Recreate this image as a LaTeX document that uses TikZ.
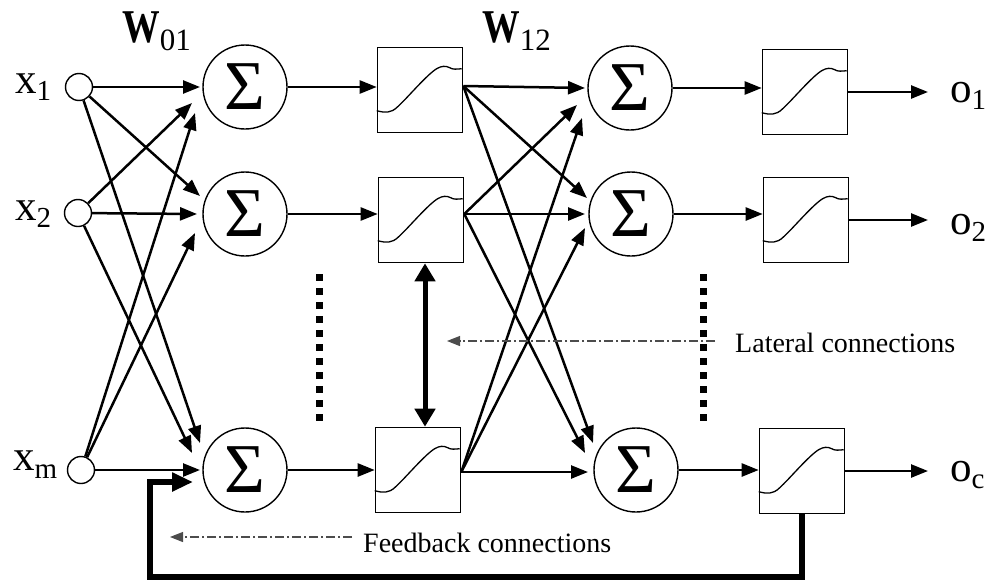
\documentclass[tikz,border=0pt]{standalone}
\usepackage{fontspec}
\setmainfont{Liberation Serif}
\usetikzlibrary{arrows.meta,calc}

% label with a lowered subscript
\newcommand\sublabel[3][7pt]{#2\raisebox{-#1}{\fontsize{29}{29}\selectfont #3}}
% weight label: bold W with a lowered index
\newcommand\weightlabel[1]{{\fontsize{47}{47}\selectfont\bfseries\scalebox{0.8}[1]{W}}\raisebox{-8pt}{\fontsize{31}{31}\selectfont #1}}
% sigmoid trace inside an activation box
\newcommand\actcurve[1]{%
  \begin{scope}[shift={(#1.north west)}]
    \draw[line width=1.3pt] (0,64) .. controls (8,66) and (14,67) .. (21,60)
      .. controls (30,52) and (50,28) .. (60,22)
      .. controls (65,19) and (69,19) .. (73,21)
      .. controls (76,23) and (80,22.5) .. (85,22);
  \end{scope}}

\begin{document}
\begin{tikzpicture}[x=1pt,y=-1pt,
  inp/.style={circle,draw,line width=1.4pt,minimum size=27pt,inner sep=0pt},
  sumnode/.style={circle,draw,line width=1.4pt,minimum size=84pt,inner sep=0pt,
    font=\fontsize{70}{70}\selectfont},
  actbox/.style={rectangle,draw,line width=1.6pt,minimum size=85pt,inner sep=0pt},
  wire/.style={line width=2.5pt,-{Triangle[length=17pt,width=13pt]}},
  lateral/.style={line width=5pt,{Triangle[length=18pt,width=20pt]}-{Triangle[length=18pt,width=20pt]}},
  feedback/.style={line width=6pt,line join=miter,-{Triangle[length=21pt,width=18pt]}},
  dots/.style={line width=7pt,dash pattern=on 7pt off 7pt},
  pointer/.style={line width=1.1pt,black!70,dash pattern=on 9pt off 3pt on 2pt off 3pt,
    -{Triangle[length=13pt,width=10pt]}},
  iolabel/.style={anchor=base west,inner sep=0pt,font=\fontsize{43}{43}\selectfont},
  note/.style={inner sep=0pt,font=\fontsize{28}{28}\selectfont},
]
\useasboundingbox (0,0) rectangle (992,581);

% input units
\node[inp] (in1) at (79,87) {};
\node[inp] (in2) at (78,213) {};
\node[inp] (inm) at (81,470) {};
\node[iolabel] at (15,93) {\sublabel{x}{1}};
\node[iolabel] at (15,220) {\sublabel{x}{2}};
\node[iolabel] at (13,470) {\sublabel[8pt]{x}{m}};

% first summation layer
\node[sumnode] (s1) at (245,87) {Σ};
\node[sumnode] (s2) at (245,214) {Σ};
\node[sumnode] (s3) at (245,470) {Σ};

% first activation layer
\node[actbox] (b1) at (420,90) {};
\node[actbox] (b2) at (421,220) {};
\node[actbox] (b3) at (418,470) {};
\actcurve{b1}\actcurve{b2}\actcurve{b3}

% second summation layer
\node[sumnode] (t1) at (630,88) {Σ};
\node[sumnode] (t2) at (631,214) {Σ};
\node[sumnode] (t3) at (636,470) {Σ};

% second activation layer
\node[actbox] (c1) at (805,92) {};
\node[actbox] (c2) at (806,220) {};
\node[actbox] (c3) at (802,471) {};
\actcurve{c1}\actcurve{c2}\actcurve{c3}

% weight labels
\node[anchor=base west,inner sep=0pt] at (122,42) {\weightlabel{01}};
\node[anchor=base west,inner sep=0pt] at (482,42) {\weightlabel{12}};

% inputs to first summation layer
\draw[wire] (in1) -- ([shift={(-45,0)}]s1.center);
\draw[wire] (in1) -- ([shift={(-45,-18)}]s2.center);
\draw[wire] (in1) -- ([shift={(-45,-27)}]s3.center);
\draw[wire] (in2) -- ([shift={(-53,16)}]s1.center);
\draw[wire] (in2) -- ([shift={(-48,0)}]s2.center);
\draw[wire] (in2) -- ([shift={(-53,-17)}]s3.center);
\draw[wire] (inm) -- ([shift={(-50,26)}]s1.center);
\draw[wire] (inm) -- ([shift={(-50,19)}]s2.center);
\draw[wire] (inm) -- ([shift={(-45,0)}]s3.center);

% summation to activation
\foreach \s/\b in {s1/b1,s2/b2,s3/b3,t1/c1,t2/c2,t3/c3}
  \draw[wire] (\s.east) -- (\s.east -| \b.west);

% first activation layer to second summation layer
\coordinate (p1) at ([shift={(0,-4)}]b1.east);
\coordinate (p2) at ([shift={(0,-6)}]b2.east);
\coordinate (p3) at ([shift={(0,2)}]b3.east);
\draw[wire] (p1) -- ([shift={(-45,0)}]t1.center);
\draw[wire] (p1) -- ([shift={(-44,-16)}]t2.center);
\draw[wire] (p1) -- ([shift={(-43,-27)}]t3.center);
\draw[wire] (p2) -- ([shift={(-53,17)}]t1.center);
\draw[wire] (p2) -- ([shift={(-46,0)}]t2.center);
\draw[wire] (p2) -- ([shift={(-51,-17)}]t3.center);
\draw[wire] (p3) -- ([shift={(-48,30)}]t1.center);
\draw[wire] (p3) -- ([shift={(-46,14)}]t2.center);
\draw[wire] (p3) -- ([shift={(-48,2)}]t3.center);

% outputs
\coordinate (e1) at (928,91);
\coordinate (e2) at (928,220);
\coordinate (ec) at (928,472);
\draw[wire] (c1.east) -- (c1.east -| e1);
\draw[wire] (c2.east) -- (c2.east -| e2);
\draw[wire] (c3.east) -- (c3.east -| ec);
\node[iolabel] at (950,102) {\sublabel{o}{1}};
\node[iolabel] at (950,234) {\sublabel{o}{2}};
\node[iolabel] at (950,481) {\sublabel{o}{c}};

% omitted units
\coordinate (d1a) at (319,274);
\coordinate (d1b) at (319,428);
\coordinate (d2a) at (703,274);
\coordinate (d2b) at (703,428);
\draw[dots] (d1a) -- (d1b);
\draw[dots] (d2a) -- (d2b);

% lateral connection
\draw[lateral] ([xshift=4pt]b2.south) -- ([xshift=4pt]b2.south |- b3.north);

% feedback connection
\coordinate (fbc) at (150,577);
\coordinate (fbt) at (193,482);
\draw[feedback] (c3.south) |- (fbc) |- (fbt);

% annotations
\node[note,anchor=base west] (lat) at (735,352) {Lateral connections};
\coordinate (latp) at (447,341);
\draw[pointer,shorten <=20pt] (lat.west |- latp) -- (latp);
\node[note,anchor=base west] (fbk) at (363,552) {Feedback connections};
\coordinate (fbp) at (170,537);
\draw[pointer,shorten <=11pt] (fbk.west |- fbp) -- (fbp);
\end{tikzpicture}
\end{document}
